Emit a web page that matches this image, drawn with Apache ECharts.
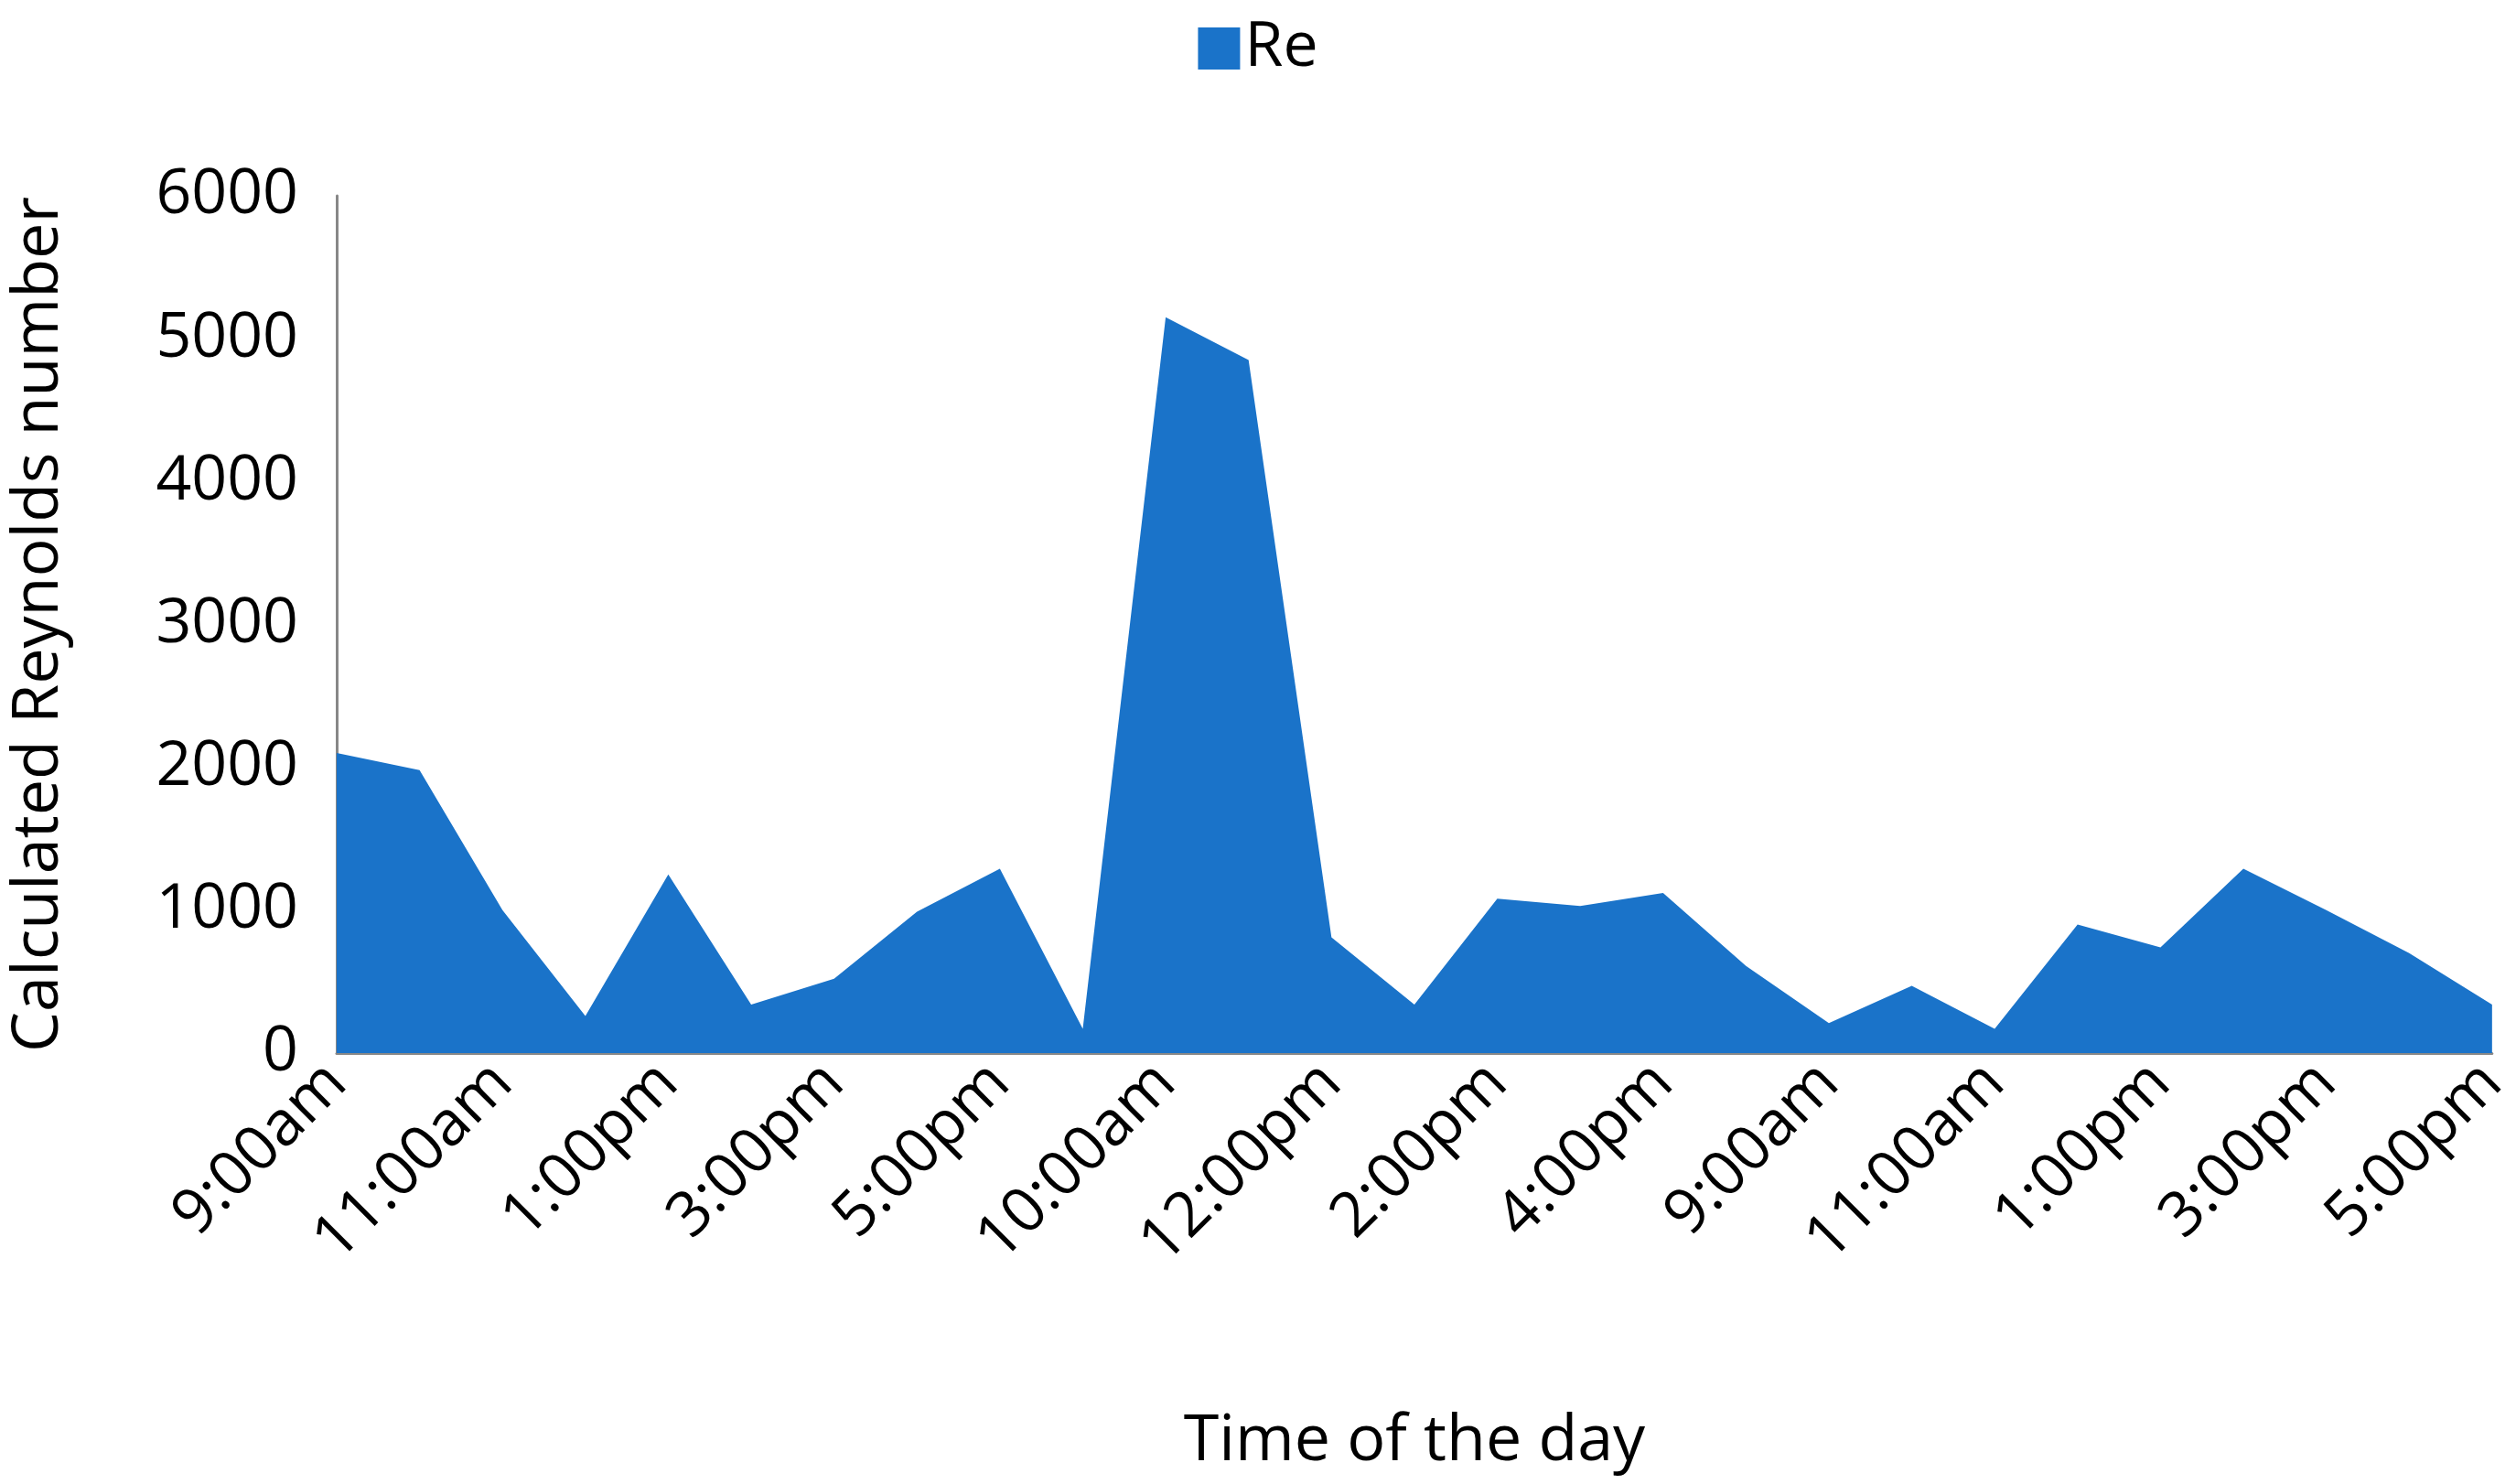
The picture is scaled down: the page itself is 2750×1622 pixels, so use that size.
<!DOCTYPE html>
<html><head><meta charset="utf-8">
<script src="https://cdn.jsdelivr.net/npm/echarts@6/dist/echarts.min.js"></script>
<style>html,body{margin:0;background:#fff}#c{width:2750px;height:1622px}</style>
</head><body><div id="c"></div>
<script>
var times = ['9:00am','10:00am','11:00am','12:00pm','1:00pm','2:00pm','3:00pm','4:00pm','5:00pm',
             '9:00am','10:00am','11:00am','12:00pm','1:00pm','2:00pm','3:00pm','4:00pm','5:00pm',
             '9:00am','10:00am','11:00am','12:00pm','1:00pm','2:00pm','3:00pm','4:00pm','5:00pm'];
var re = [2100,1980,1000,260,1250,340,520,990,1290,
          170,5150,4850,810,340,1080,1030,1120,610,
          210,470,170,900,740,1290,1000,700,340];
var font = 'Open Sans';
var chart = echarts.init(document.getElementById('c'));
chart.setOption({
    animation: false,
    legend: {
        top: 14, left: 'center',
        itemWidth: 46, itemHeight: 46, icon: 'rect', itemGap: 10,
        textStyle: {fontSize: 68, fontFamily: font, color: '#000'},
        data: ['Re']
    },
    grid: {left: 365, right: 23, top: 214, bottom: 471},
    xAxis: {
        type: 'category', data: times, boundaryGap: false,
        name: 'Time of the day', nameLocation: 'middle', nameGap: 390,
        nameTextStyle: {fontSize: 70, fontFamily: font, color: '#000'},
        axisLine: {lineStyle: {color: '#888', width: 3}},
        axisTick: {show: false},
        axisLabel: {interval: 1, rotate: 45, fontSize: 68, fontFamily: font, color: '#000', margin: 22}
    },
    yAxis: {
        type: 'value', min: 0, max: 6000, interval: 1000,
        name: 'Calculated Reynolds number', nameLocation: 'middle', nameGap: 290,
        nameTextStyle: {fontSize: 70, fontFamily: font, color: '#000'},
        axisLine: {show: true, lineStyle: {color: '#888', width: 3}},
        axisTick: {show: false},
        splitLine: {show: false},
        axisLabel: {fontSize: 68, fontFamily: font, color: '#000', margin: 42,
            formatter: function (v) { return String(v); }}
    },
    series: [{
        name: 'Re', type: 'line', data: re,
        symbol: 'none',
        lineStyle: {width: 0, color: '#1a73c9'},
        itemStyle: {color: '#1a73c9'},
        areaStyle: {color: '#1a73c9', opacity: 1}
    }]
});
</script></body></html>
